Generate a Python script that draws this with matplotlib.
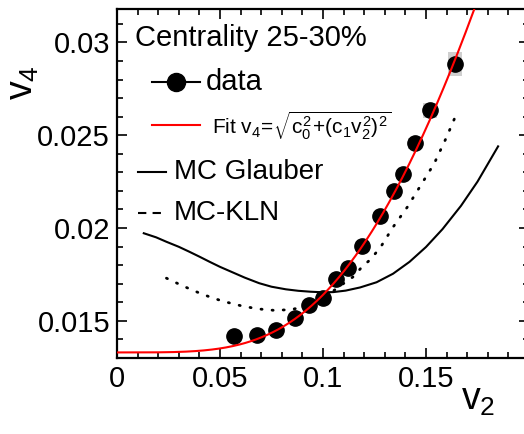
import numpy as np
import matplotlib
matplotlib.use("Agg")
import matplotlib.pyplot as plt
from matplotlib.ticker import MultipleLocator, FuncFormatter
from matplotlib.patches import Rectangle

plt.rcParams['font.family'] = ['Liberation Sans', 'DejaVu Sans']
plt.rcParams['mathtext.fontset'] = 'custom'
plt.rcParams['mathtext.rm'] = 'Liberation Sans'
plt.rcParams['mathtext.it'] = 'Liberation Sans'
plt.rcParams['mathtext.bf'] = 'Liberation Sans:bold'

# measured v4 vs v2, centrality 25-30%
v2_data = [0.0568, 0.0680, 0.0772, 0.0864, 0.0932, 0.1000, 0.1063, 0.1121,
           0.1189, 0.1277, 0.1345, 0.1388, 0.1447, 0.1519, 0.1641]
v4_data = [0.01419, 0.01425, 0.01452, 0.01516, 0.01586, 0.01624, 0.01726, 0.01785,
           0.01903, 0.02065, 0.02199, 0.02290, 0.02457, 0.02634, 0.02882]
v4_sys = [0.0001, 0.0001, 0.0001, 0.0001, 0.0001, 0.0001, 0.00012, 0.00013,
          0.00015, 0.0002, 0.00022, 0.00025, 0.0003, 0.0004, 0.00065]

# model curves
glauber_v2 = [0.013, 0.019, 0.024, 0.030, 0.035, 0.040, 0.045, 0.050, 0.056,
              0.062, 0.069, 0.075, 0.082, 0.088, 0.094, 0.100, 0.105, 0.111,
              0.118, 0.126, 0.134, 0.142, 0.150, 0.158, 0.167, 0.175, 0.185]
glauber_v4 = [0.01972, 0.01950, 0.01926, 0.01899, 0.01873, 0.01846, 0.01818,
              0.01791, 0.01762, 0.01733, 0.01703, 0.01684, 0.01670, 0.01662,
              0.01657, 0.01654, 0.01655, 0.01663, 0.01680, 0.01708, 0.01754,
              0.01818, 0.01898, 0.01994, 0.02120, 0.02250, 0.02440]
kln_v2 = [0.024, 0.032, 0.040, 0.046, 0.052, 0.060, 0.068, 0.076, 0.084,
          0.092, 0.100, 0.108, 0.115, 0.119, 0.123, 0.128, 0.134, 0.141,
          0.147, 0.154, 0.160, 0.165]
kln_v4 = [0.01730, 0.01688, 0.01650, 0.01625, 0.01604, 0.01582, 0.01565,
          0.01557, 0.01560, 0.01578, 0.01620, 0.01686, 0.01740, 0.01792,
          0.01830, 0.01898, 0.02005, 0.02114, 0.02222, 0.02348, 0.02490, 0.02620]

# fit v4 = sqrt(c0^2 + (c1 v2^2)^2)
c0 = 0.0133
c1 = 0.96

W, H = 524, 434
fig = plt.figure(figsize=(W / 100, H / 100), dpi=100)
ax = fig.add_axes([117 / W, 1 - 358 / H, (529 - 117) / W, (358 - 9) / H])

for x, y, s in zip(v2_data, v4_data, v4_sys):
    ax.add_patch(Rectangle((x - 0.0035, y - s), 0.007, 2 * s,
                           facecolor='#cfcfcf', edgecolor='none', zorder=2))

ax.plot(glauber_v2, glauber_v4, color='black', lw=1.5, zorder=3)
ax.plot(kln_v2, kln_v4, color='black', lw=2.0, ls=(0, (0.4, 3.6)),
        dash_capstyle='round', zorder=3)
ax.plot(v2_data, v4_data, 'o', color='black', ms=11, zorder=4)

xf = np.linspace(0, 0.2, 300)
ax.plot(xf, np.sqrt(c0 ** 2 + (c1 * xf ** 2) ** 2), color='#ff0000', lw=1.5, zorder=5)

ax.set_xlim(0, 0.2)
ax.set_ylim(0.013, 0.0318)
ax.xaxis.set_major_locator(MultipleLocator(0.05))
ax.xaxis.set_minor_locator(MultipleLocator(0.01))
ax.yaxis.set_major_locator(MultipleLocator(0.005))
ax.yaxis.set_minor_locator(MultipleLocator(0.001))
ax.xaxis.set_major_formatter(FuncFormatter(lambda v, p: '' if v > 0.19 else f'{v:g}'))
ax.yaxis.set_major_formatter(FuncFormatter(lambda v, p: f'{v:g}'))
ax.tick_params(which='both', direction='in', top=True, right=True,
               labelsize=21, width=1.2, pad=5)
ax.tick_params(which='major', length=7.5)
ax.tick_params(which='minor', length=4)
for sp in ax.spines.values():
    sp.set_linewidth(1.6)

fig.text(23 / W, 1 - 83 / H, r'$v_4$', fontsize=27, rotation=90,
         ha='center', va='center')
fig.text(478 / W, 1 - 400 / H, r'$v_2$', fontsize=27, ha='center', va='center')


# legend drawn by hand in pixel positions
def ax_pt(px, py):
    return (px - 117) / 412, (358 - py) / 349


tr = ax.transAxes
ax.text(*ax_pt(135, 38), 'Centrality 25-30%', transform=tr, fontsize=21, va='center')

(xa, ya), (xb, _) = ax_pt(152, 82), ax_pt(200, 82)
ax.plot([xa, xb], [ya, ya], color='black', lw=1.5, transform=tr, clip_on=False)
ax.plot([(xa + xb) / 2], [ya], 'o', color='black', ms=13, transform=tr)
ax.text(*ax_pt(206, 82), 'data', transform=tr, fontsize=21, va='center')

(xa, ya), (xb, _) = ax_pt(152, 125), ax_pt(200, 125)
ax.plot([xa, xb], [ya, ya], color='#ff0000', lw=1.5, transform=tr)
ax.text(*ax_pt(212, 126), r'Fit $v_4\!=\!\sqrt{c_0^2\!+\!(c_1v_2^2)^2}$',
        transform=tr, fontsize=15, va='center')

(xa, ya), (xb, _) = ax_pt(138, 172), ax_pt(166, 172)
ax.plot([xa, xb], [ya, ya], color='black', lw=1.5, transform=tr)
ax.text(*ax_pt(174, 172), 'MC Glauber', transform=tr, fontsize=20, va='center')

(xa, ya), (xb, _) = ax_pt(138, 213), ax_pt(166, 213)
ax.plot([xa, xb], [ya, ya], color='black', lw=1.5, ls=(0, (4, 3)), transform=tr)
ax.text(*ax_pt(174, 213), 'MC-KLN', transform=tr, fontsize=20, va='center')

fig.savefig('out.png', dpi=100)
